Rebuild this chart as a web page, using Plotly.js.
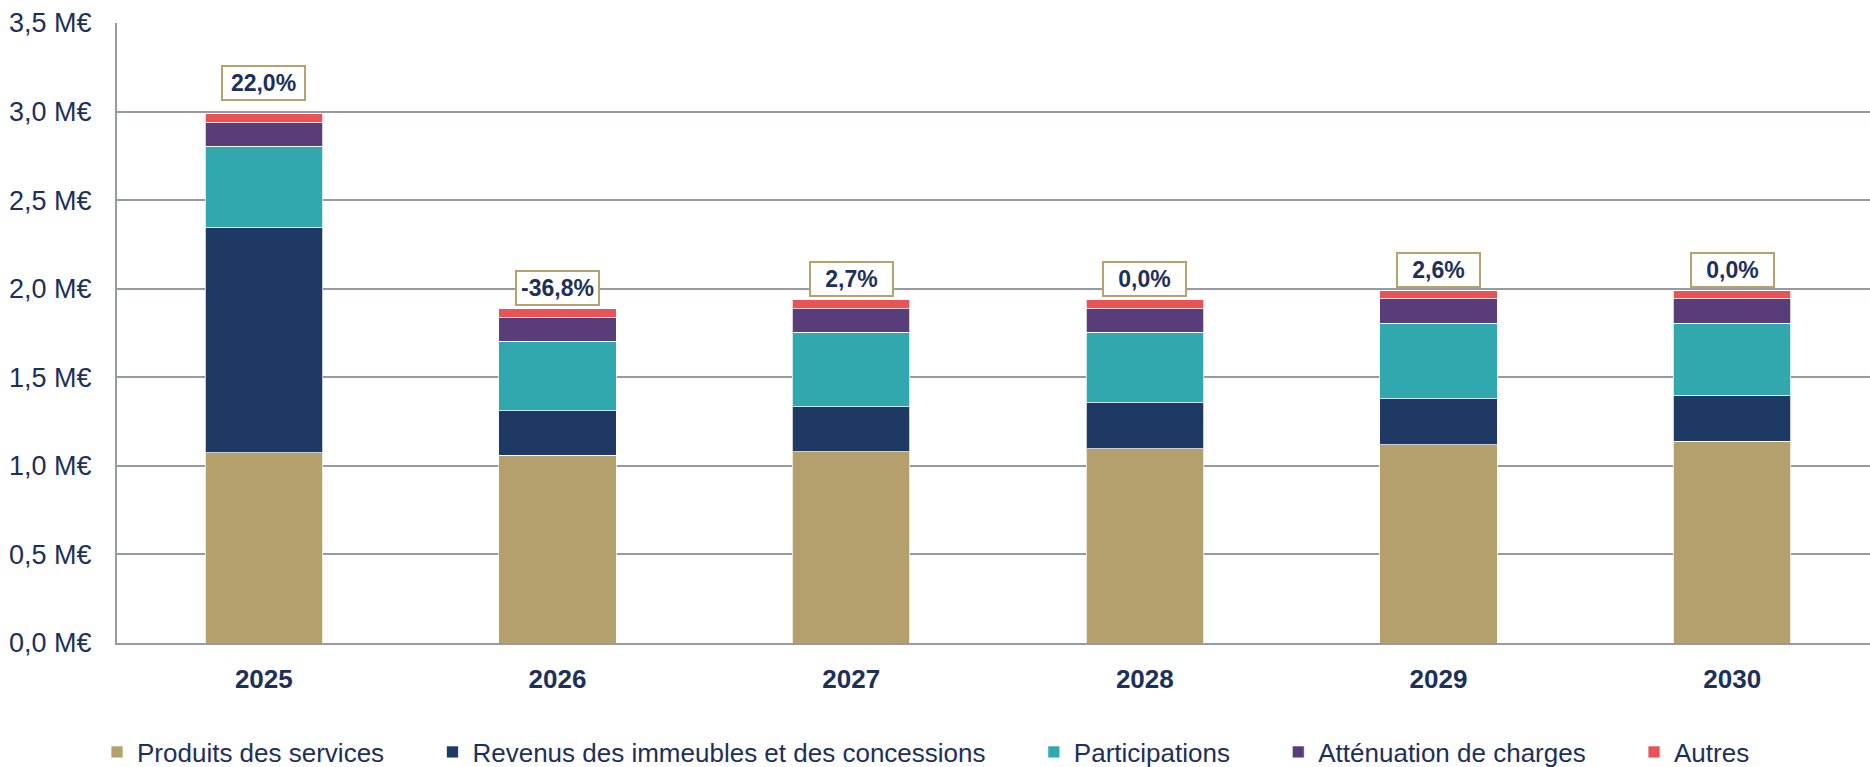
<!DOCTYPE html>
<html>
<head>
<meta charset="utf-8">
<script src="https://cdn.plot.ly/plotly-3.0.1.min.js"></script>
<style>
  html, body { margin: 0; padding: 0; overflow: hidden; background: #ffffff; }
  #chart { width: 1880px; height: 767px; }
</style>
</head>
<body>
<div id="chart"></div>
<script>
// ---- Data (M€) ----
var years = ["2025", "2026", "2027", "2028", "2029", "2030"];
var produitsServices = [1.073, 1.060, 1.081, 1.098, 1.118, 1.139];
var revenusImmeubles = [1.273, 0.250, 0.254, 0.257, 0.260, 0.261];
var participations   = [0.457, 0.394, 0.419, 0.399, 0.427, 0.405];
var attenuation      = [0.133, 0.131, 0.134, 0.132, 0.138, 0.138];
var autres           = [0.053, 0.053, 0.049, 0.051, 0.045, 0.045];
var growthLabels = ["22,0%", "-36,8%", "2,7%", "0,0%", "2,6%", "0,0%"];

var yTickVals = [0, 0.5, 1.0, 1.5, 2.0, 2.5, 3.0, 3.5];
var yTickText = ["0,0 M€", "0,5 M€", "1,0 M€", "1,5 M€", "2,0 M€", "2,5 M€", "3,0 M€", "3,5 M€"];

var seriesNames = ["Produits des services", "Revenus des immeubles et des concessions",
                   "Participations", "Atténuation de charges", "Autres"];
var seriesValues = [produitsServices, revenusImmeubles, participations, attenuation, autres];
var seriesColors = ["#b3a06c", "#1e3964", "#30a8ae", "#593d7b", "#e95355"];

var PAD = "\u00a0\u00a0\u00a0\u00a0\u00a0\u00a0";
var navy = "#1d2f5b";
var grid = "#979aa3";
var font = "Liberation Sans, Arial, sans-serif";

var traces = seriesNames.map(function (name, i) {
  return {
    type: "bar",
    name: i < seriesNames.length - 1 ? name + PAD : name,
    x: years,
    y: seriesValues[i],
    marker: { color: seriesColors[i], line: { color: "rgba(255,255,255,0.75)", width: 1 } },
    hoverinfo: "x+y"
  };
});

var totals = years.map(function (_, j) {
  return seriesValues.reduce(function (s, arr) { return s + arr[j]; }, 0);
});

var annotations = years.map(function (yr, j) {
  return {
    x: j, y: totals[j], xref: "x", yref: "y",
    text: "<b>" + growthLabels[j] + "</b>",
    showarrow: false,
    yanchor: "bottom",
    yshift: j === 0 ? 13 : 3,
    font: { family: font, size: 23, color: navy },
    bgcolor: "#ffffff",
    bordercolor: "#b5a36e",
    borderwidth: 2,
    borderpad: 2,
    width: 77,
    height: 28
  };
});

var layout = {
  width: 1880,
  height: 767,
  margin: { l: 117, r: 1, t: 23, b: 124, autoexpand: false },
  paper_bgcolor: "#ffffff",
  plot_bgcolor: "#ffffff",
  barmode: "stack",
  bargap: 0.6,
  font: { family: font, color: navy },
  xaxis: {
    type: "category",
    categoryorder: "array",
    categoryarray: years,
    range: [-0.5, years.length - 0.5],
    autorange: false,
    showgrid: false,
    showline: true,
    linecolor: grid,
    linewidth: 2,
    ticks: "",
    ticklabelstandoff: 12,
    tickfont: { family: font, size: 26, color: navy, weight: "bold" }
  },
  yaxis: {
    range: [0, 3.5],
    autorange: false,
    tickvals: yTickVals,
    ticktext: yTickText,
    showgrid: true,
    gridcolor: grid,
    gridwidth: 2,
    showline: true,
    linecolor: grid,
    linewidth: 2,
    zeroline: false,
    ticks: "",
    ticklabelstandoff: 18,
    tickfont: { family: font, size: 27, color: navy }
  },
  showlegend: true,
  legend: {
    orientation: "h",
    traceorder: "normal",
    xref: "container", yref: "container",
    x: 97 / 1880, xanchor: "left",
    y: 1 - 752 / 767, yanchor: "middle",
    bgcolor: "rgba(0,0,0,0)",
    font: { family: font, size: 26, color: navy }
  },
  annotations: annotations
};

Plotly.newPlot("chart", traces, layout, { displayModeBar: false, staticPlot: true });
</script>
</body>
</html>
